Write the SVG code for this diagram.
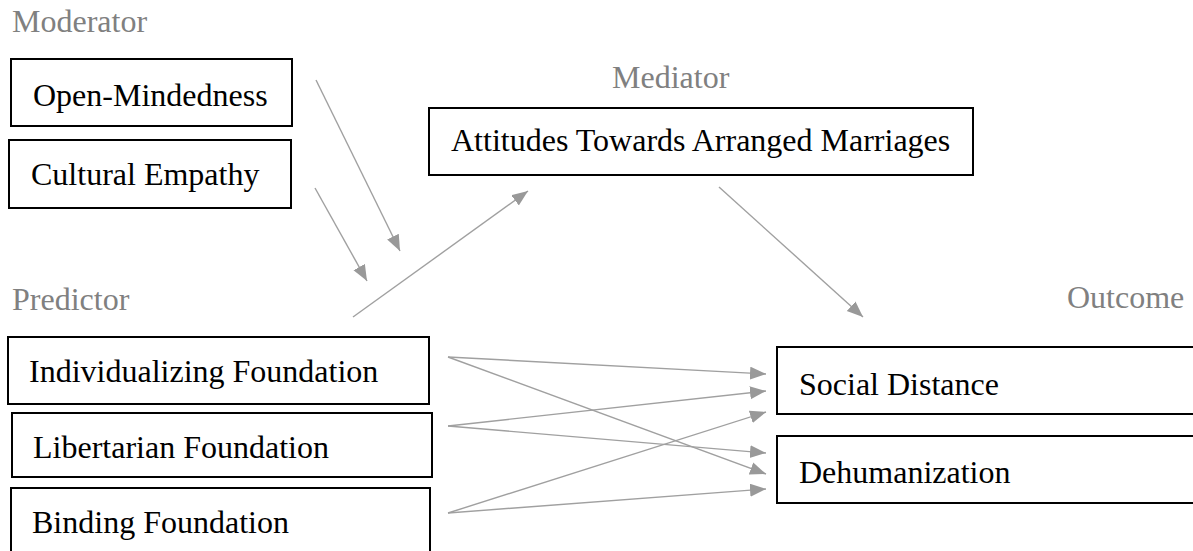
<svg xmlns="http://www.w3.org/2000/svg" width="1193" height="551" viewBox="0 0 1193 551">
<style>
.lbl{fill:#808080}
.txt{fill:#000}
.box{fill:#fff;stroke:#000;stroke-width:2}
.arr{stroke:#a0a0a0;stroke-width:1.4;fill:none;marker-end:url(#ah)}
</style>
<defs>
<marker id="ah" markerUnits="userSpaceOnUse" markerWidth="16" markerHeight="14" refX="16" refY="6.5" orient="auto">
<path d="M0,0 L16,6.5 L0,13 z" fill="#999"/>
</marker>
</defs>
<rect width="1193" height="551" fill="#fff"/>
<g id="labels">
<text class="lbl" font-family="Liberation Serif" font-size="32" x="12" y="32">Moderator</text>
<text class="lbl" font-family="Liberation Serif" font-size="32" x="612" y="88">Mediator</text>
<text class="lbl" font-family="Liberation Serif" font-size="32" x="12" y="310">Predictor</text>
<text class="lbl" font-family="Liberation Serif" font-size="32" x="1067" y="308">Outcome</text>
</g>
<g id="connectors">
<line class="arr" x1="316" y1="80" x2="400" y2="251"/>
<line class="arr" x1="315" y1="188" x2="367" y2="281"/>
<line class="arr" x1="353" y1="317" x2="528" y2="191"/>
<line class="arr" x1="719" y1="187" x2="863" y2="317"/>
<line class="arr" x1="448" y1="357" x2="766" y2="374"/>
<line class="arr" x1="448" y1="357" x2="766" y2="474"/>
<line class="arr" x1="448" y1="426" x2="766" y2="391"/>
<line class="arr" x1="448" y1="426" x2="766" y2="453"/>
<line class="arr" x1="448" y1="513" x2="766" y2="412"/>
<line class="arr" x1="448" y1="513" x2="766" y2="489"/>
</g>
<g id="open-mindedness">
<rect class="box" x="11" y="59" width="281" height="67"/>
<text class="txt" font-family="Liberation Serif" font-size="32" x="33" y="106">Open-Mindedness</text>
</g>
<g id="cultural-empathy">
<rect class="box" x="9" y="140" width="282" height="68"/>
<text class="txt" font-family="Liberation Serif" font-size="32" x="31" y="185">Cultural Empathy</text>
</g>
<g id="attitudes">
<rect class="box" x="429" y="108" width="544" height="67"/>
<text class="txt" font-family="Liberation Serif" font-size="32" x="451" y="151">Attitudes Towards Arranged Marriages</text>
</g>
<g id="individualizing">
<rect class="box" x="8" y="337" width="421" height="67"/>
<text class="txt" font-family="Liberation Serif" font-size="32" x="29" y="382">Individualizing Foundation</text>
</g>
<g id="libertarian">
<rect class="box" x="12" y="413" width="420" height="64"/>
<text class="txt" font-family="Liberation Serif" font-size="32" x="33" y="458">Libertarian Foundation</text>
</g>
<g id="binding">
<rect class="box" x="11" y="488" width="419" height="80"/>
<text class="txt" font-family="Liberation Serif" font-size="32" x="32" y="533">Binding Foundation</text>
</g>
<g id="social-distance">
<rect class="box" x="777" y="347" width="430" height="67"/>
<text class="txt" font-family="Liberation Serif" font-size="32" x="799" y="395">Social Distance</text>
</g>
<g id="dehumanization">
<rect class="box" x="777" y="436" width="430" height="67"/>
<text class="txt" font-family="Liberation Serif" font-size="32" x="799" y="483">Dehumanization</text>
</g>
</svg>
